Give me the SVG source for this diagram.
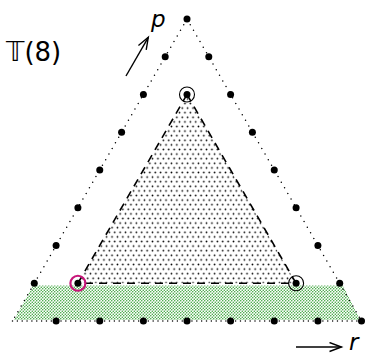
<svg xmlns="http://www.w3.org/2000/svg" width="365" height="354" viewBox="0 0 365 354">
<style>
.lbl{font-family:"DejaVu Sans","Liberation Sans",sans-serif;fill:#000}
.var{font-family:"DejaVu Sans","Liberation Sans",sans-serif;font-style:italic;font-size:23px;fill:#000}
.outer{fill:none;stroke:#000;stroke-width:1.5;stroke-linecap:round}
.dash{fill:none;stroke:#000;stroke-width:1.6;stroke-dasharray:8 6}
.pt{fill:#000}
.ring{fill:none;stroke:#000;stroke-width:1.1}
.ringm{fill:none;stroke:#c8177a;stroke-width:2.2}
.arr{fill:none;stroke:#000;stroke-width:1.4}
</style>
<defs>
<pattern id="blackdots" width="5.4" height="9.2" patternUnits="userSpaceOnUse">
<circle cx="1.35" cy="2.3" r="0.85" fill="#000"/>
<circle cx="4.05" cy="6.9" r="0.85" fill="#000"/>
</pattern>
<pattern id="greendots" width="3" height="3" patternUnits="userSpaceOnUse">
<circle cx="0.75" cy="0.75" r="0.75" fill="#2e9e2e"/>
<circle cx="2.25" cy="2.25" r="0.75" fill="#2e9e2e"/>
</pattern>
<marker id="vhead" markerUnits="userSpaceOnUse" markerWidth="16" markerHeight="12" refX="13" refY="5" orient="auto">
<path d="M1,0.5 L13,5 L1,9.5" fill="none" stroke="#000" stroke-width="1.4"/>
</marker>
</defs>
<g id="band">
<polygon points="33,285.5 343,285.5 360,320 14,320" fill="url(#greendots)"/>
</g>
<g id="inner">
<polygon points="187,94.5 77.9,283.25 296.1,283.25" fill="url(#blackdots)"/>
</g>
<g id="connectors">
<path class="dash" d="M187,94.5 L77.9,283.25"/>
<path class="dash" d="M187,94.5 L296.1,283.25"/>
<path class="dash" d="M85,283.25 L290,283.25"/>
<path class="outer" stroke-dasharray="0 6.5" d="M187,19 L12.5,321"/>
<path class="outer" stroke-dasharray="0 6.5" d="M187,19 L361.5,321"/>
<path class="outer" stroke-dasharray="0 4.85" d="M12.5,321 L361.5,321"/>
<line class="arr" x1="126" y1="76" x2="148.3" y2="37.3" marker-end="url(#vhead)"/>
<line class="arr" x1="296" y1="347" x2="341.5" y2="347" marker-end="url(#vhead)"/>
</g>
<g id="points">
<circle class="pt" cx="187" cy="19" r="3.5"/>
<circle class="pt" cx="165.2" cy="56.75" r="3.5"/>
<circle class="pt" cx="143.4" cy="94.5" r="3.5"/>
<circle class="pt" cx="121.6" cy="132.25" r="3.5"/>
<circle class="pt" cx="99.75" cy="170" r="3.5"/>
<circle class="pt" cx="77.9" cy="207.75" r="3.5"/>
<circle class="pt" cx="56.1" cy="245.5" r="3.5"/>
<circle class="pt" cx="34.3" cy="283.25" r="3.5"/>
<circle class="pt" cx="208.8" cy="56.75" r="3.5"/>
<circle class="pt" cx="230.6" cy="94.5" r="3.5"/>
<circle class="pt" cx="252.4" cy="132.25" r="3.5"/>
<circle class="pt" cx="274.25" cy="170" r="3.5"/>
<circle class="pt" cx="296.1" cy="207.75" r="3.5"/>
<circle class="pt" cx="317.9" cy="245.5" r="3.5"/>
<circle class="pt" cx="339.7" cy="283.25" r="3.5"/>
<circle class="pt" cx="56.1" cy="321" r="3.5"/>
<circle class="pt" cx="99.75" cy="321" r="3.5"/>
<circle class="pt" cx="143.4" cy="321" r="3.5"/>
<circle class="pt" cx="187" cy="321" r="3.5"/>
<circle class="pt" cx="230.6" cy="321" r="3.5"/>
<circle class="pt" cx="274.25" cy="321" r="3.5"/>
<circle class="pt" cx="317.9" cy="321" r="3.5"/>
<circle class="pt" cx="361.5" cy="321" r="3.5"/>
</g>
<g id="vertex-top">
<circle class="pt" cx="187" cy="94.5" r="3.5"/>
<circle class="ring" cx="187" cy="94.5" r="7.5"/>
</g>
<g id="vertex-left">
<circle class="pt" cx="77.9" cy="283.25" r="3.5"/>
<circle class="ringm" cx="77.9" cy="283.25" r="7.5"/>
</g>
<g id="vertex-right">
<circle class="pt" cx="296.1" cy="283.25" r="3.5"/>
<circle class="ring" cx="296.1" cy="283.25" r="7.5"/>
</g>
<g id="labels">
<text class="lbl" x="6" y="61" font-size="26">𝕋(8)</text>
<text class="var" x="151" y="27">p</text>
<text class="var" x="349" y="350">r</text>
</g>
</svg>
